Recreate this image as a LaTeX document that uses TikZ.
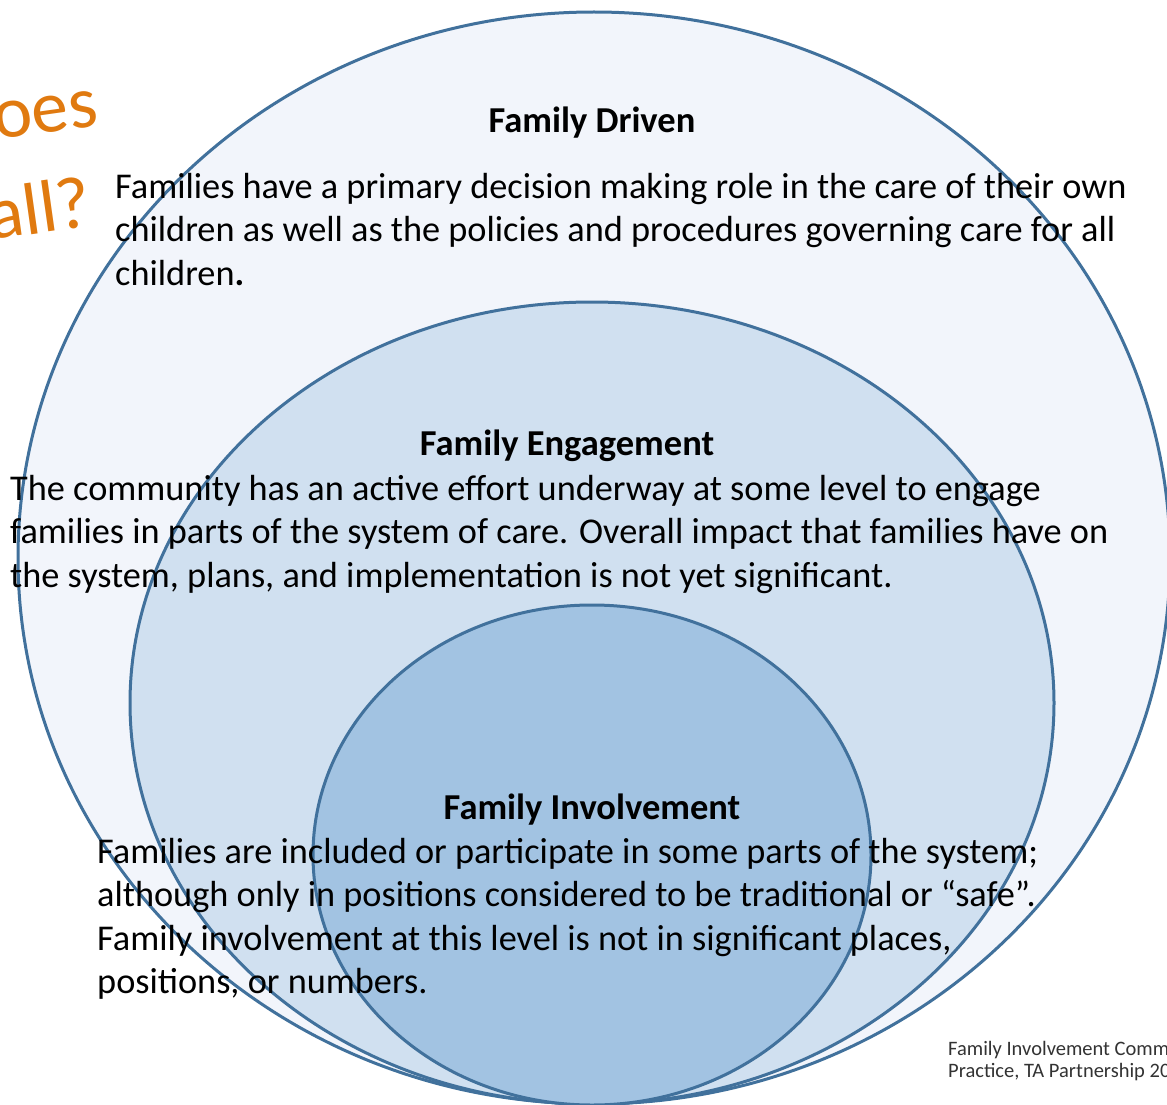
\documentclass[tikz,border=0pt]{standalone}
\usepackage{fontspec}
\setmainfont{Carlito}
\usetikzlibrary{positioning}

\definecolor{ringline}{HTML}{41719C}
\definecolor{drivenfill}{HTML}{F2F5FB}
\definecolor{engagefill}{HTML}{D0E0F0}
\definecolor{involvefill}{HTML}{A2C3E2}
\definecolor{askorange}{HTML}{E07A10}

\begin{document}
\begin{tikzpicture}[x=1pt, y=-1pt,
	ring/.style={line width=3pt, draw=ringline},
	head/.style={font=\fontsize{36.5}{40}\selectfont\bfseries, inner sep=0pt, anchor=base},
	body/.style={font=\fontsize{36.3}{43.5}\selectfont, align=left, inner sep=0pt, anchor=base west},
	ask/.style={font=\fontsize{74}{74}\selectfont, text=askorange, rotate=8, inner sep=0pt, anchor=base west},
	note/.style={font=\fontsize{20.5}{22}\selectfont, text=black!80, align=left, inner sep=0pt, anchor=base west}]

\def\width{1167}
\def\height{1105}

\path [use as bounding box] (0,0) rectangle (\width,\height);

% QUESTION
\node [ask] (askone) at (-4,140) {oes};
\node [ask] (asktwo) at (-9,240) {all?};

% RINGS
\filldraw [ring, fill=drivenfill] (594,558) ellipse [x radius=576, y radius=546];
\filldraw [ring, fill=engagefill] (592,703) ellipse [x radius=462, y radius=401];
\filldraw [ring, fill=involvefill] (592,855) ellipse [x radius=279, y radius=250];

% TEXTS (base = last line)
\node [head] (drivenhead) at (592,133) {Family Driven};
\node [body] (driventext) at (115,285) {Families have a primary decision making role in the care of their own\\children as well as the policies and procedures governing care for all\\children\textbf{.}};

\node [head] (engagehead) at (567,455) {Family Engagement};
\node [body] (engagetext) at (10,587) {The community has an active effort underway at some level to engage\\families in parts of the system of care. Overall impact that families have on\\the system, plans, and implementation is not yet significant.};

\node [head] (involvehead) at (592,819) {Family Involvement};
\node [body] (involvetext) at (97,993.5) {Families are included or participate in some parts of the system;\\although only in positions considered to be traditional or “safe”.\\Family involvement at this level is not in significant places,\\positions, or numbers.};

% SOURCE
\node [note] (source) at (948,1077) {Family Involvement Comm\\Practice, TA Partnership 20};

\end{tikzpicture}
\end{document}
